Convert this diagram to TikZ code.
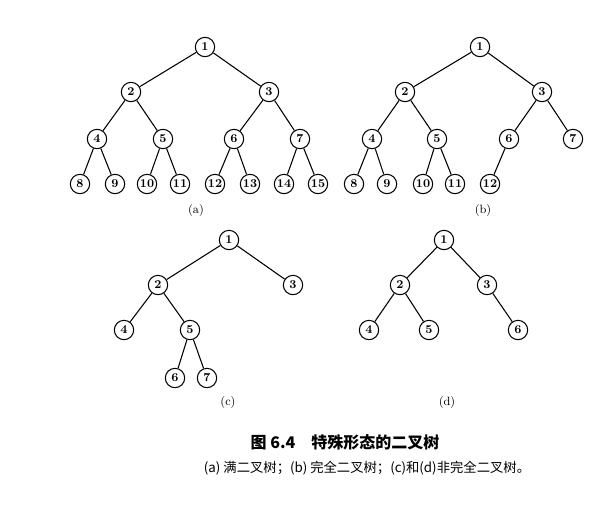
\documentclass[tikz,border=0pt]{standalone}
\usepackage{fontspec}
\newfontfamily\cjk{Noto Sans CJK SC}
\tikzset{
  vtx/.style={circle, draw, inner sep=0pt, minimum size=14.5pt, font=\small\bfseries},
  lbl/.style={font=\small}
}
\begin{document}
\begin{tikzpicture}[x=0.75pt, y=-0.75pt, thick]
  \useasboundingbox (0,0) rectangle (610,508);
  % (a)
  \node[vtx] (a1) at (205,47) {1};
  \node[vtx] (a2) at (131,92) {2};
  \node[vtx] (a3) at (269,92) {3};
  \node[vtx] (a4) at (97,139) {4};
  \node[vtx] (a5) at (163,139) {5};
  \node[vtx] (a6) at (234,139) {6};
  \node[vtx] (a7) at (300,139) {7};
  \node[vtx] (a8) at (80,184) {8};
  \node[vtx] (a9) at (115,184) {9};
  \node[vtx] (a10) at (147,184) {10};
  \node[vtx] (a11) at (180,184) {11};
  \node[vtx] (a12) at (215,184) {12};
  \node[vtx] (a13) at (250,184) {13};
  \node[vtx] (a14) at (284,184) {14};
  \node[vtx] (a15) at (318,184) {15};
  \node[lbl] (la) at (196,210) {(a)};
  \foreach \p/\c in {1/2,1/3,2/4,2/5,3/6,3/7,4/8,4/9,5/10,5/11,6/12,6/13,7/14,7/15}
    \draw (a\p) -- (a\c);
  % (b)
  \node[vtx] (b1) at (480,47) {1};
  \node[vtx] (b2) at (405,92) {2};
  \node[vtx] (b3) at (542,92) {3};
  \node[vtx] (b4) at (372,139) {4};
  \node[vtx] (b5) at (437,139) {5};
  \node[vtx] (b6) at (509,139) {6};
  \node[vtx] (b7) at (573,139) {7};
  \node[vtx] (b8) at (354,184) {8};
  \node[vtx] (b9) at (387,184) {9};
  \node[vtx] (b10) at (423,184) {10};
  \node[vtx] (b11) at (455,184) {11};
  \node[vtx] (b12) at (490,184) {12};
  \node[lbl] (lb) at (483,210) {(b)};
  \foreach \p/\c in {1/2,1/3,2/4,2/5,3/6,3/7,4/8,4/9,5/10,5/11,6/12}
    \draw (b\p) -- (b\c);
  % (c)
  \node[vtx] (c1) at (229,240) {1};
  \node[vtx] (c2) at (158,285) {2};
  \node[vtx] (c3) at (293,285) {3};
  \node[vtx] (c4) at (124,330) {4};
  \node[vtx] (c5) at (190,330) {5};
  \node[vtx] (c6) at (175,378) {6};
  \node[vtx] (c7) at (207,378) {7};
  \node[lbl] (lc) at (228,402) {(c)};
  \foreach \p/\c in {1/2,1/3,2/4,2/5,5/6,5/7}
    \draw (c\p) -- (c\c);
  % (d)
  \node[vtx] (d1) at (444,240) {1};
  \node[vtx] (d2) at (400,285) {2};
  \node[vtx] (d3) at (487,285) {3};
  \node[vtx] (d4) at (369,330) {4};
  \node[vtx] (d5) at (429,330) {5};
  \node[vtx] (d6) at (518,330) {6};
  \node[lbl] (ld) at (447,402) {(d)};
  \foreach \p/\c in {1/2,1/3,2/4,2/5,3/6}
    \draw (d\p) -- (d\c);
  % caption
  \node[font=\cjk\large\bfseries] (cap) at (345,442) {图 6.4\quad 特殊形态的二叉树};
  \node[font=\cjk] (sub) at (367,468) {(a) 满二叉树；(b) 完全二叉树；(c)和(d)非完全二叉树。};
\end{tikzpicture}
\end{document}
